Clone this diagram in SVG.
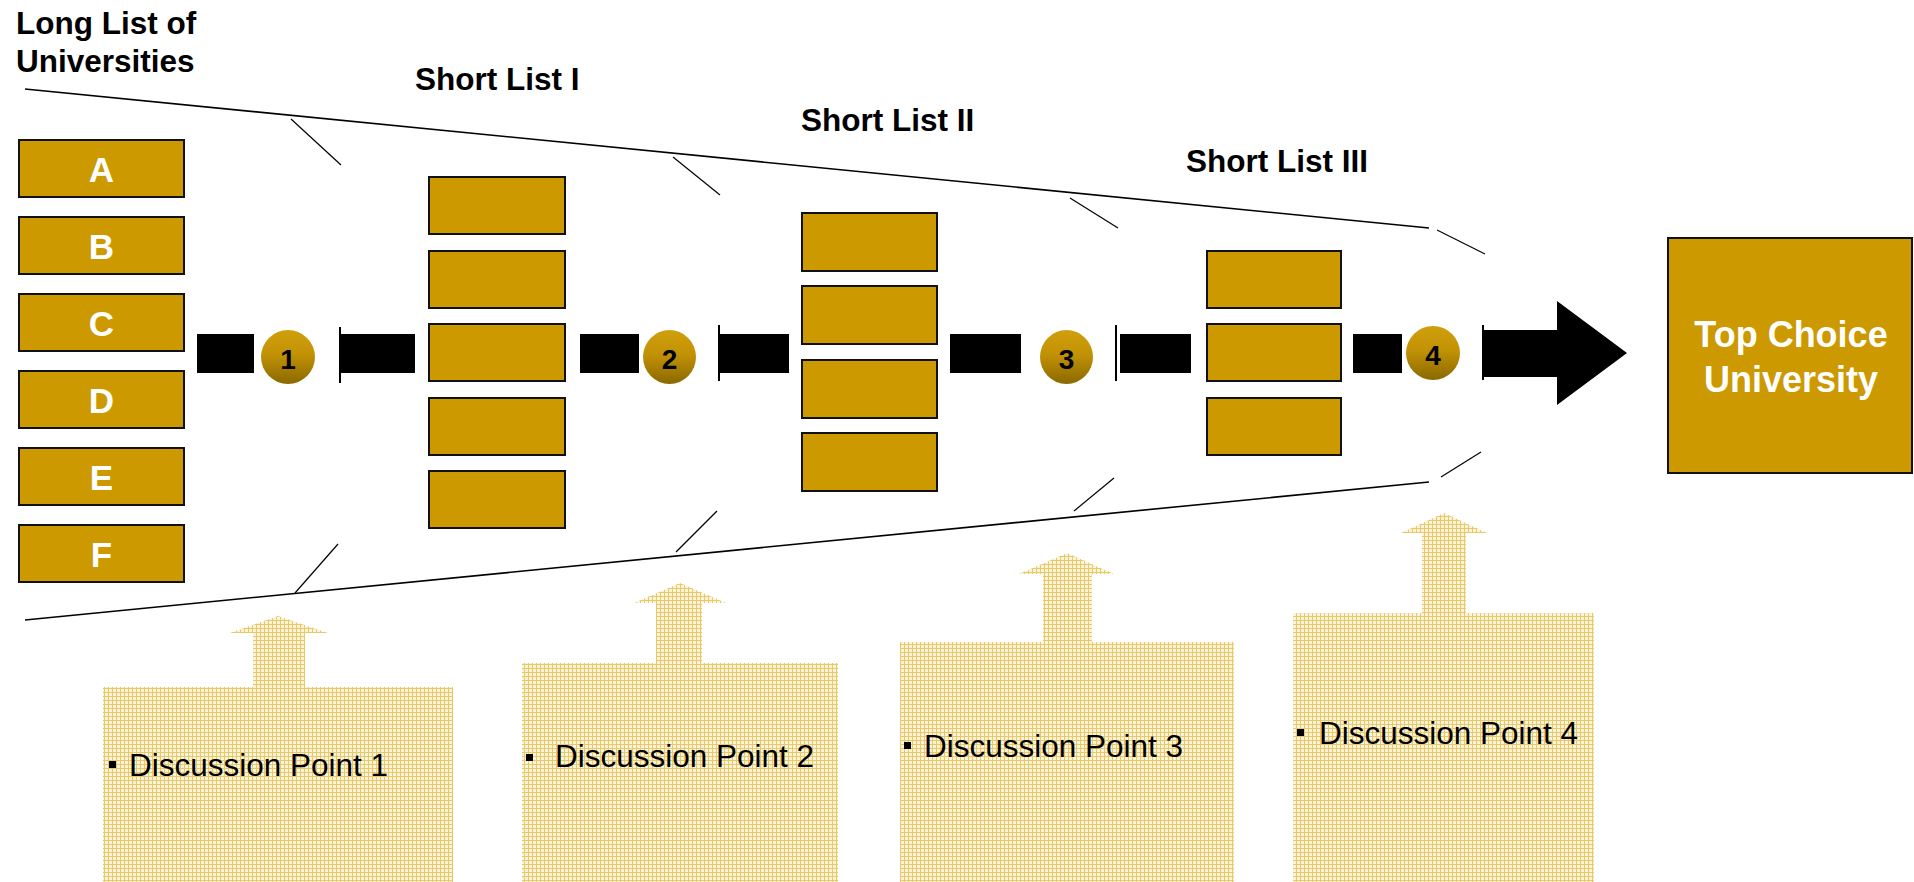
<svg xmlns="http://www.w3.org/2000/svg" width="1914" height="882" viewBox="0 0 1914 882">
<defs>
<style>
.box{fill:#cc9900;stroke:#111;stroke-width:2}
.lbl{font-family:"Liberation Sans",Arial,sans-serif;font-weight:bold;fill:#fff;text-anchor:middle}
.hd{font-family:"Liberation Sans",Arial,sans-serif;font-weight:bold;font-size:31.5px;fill:#000}
.num{font-family:"Liberation Sans",Arial,sans-serif;font-weight:bold;font-size:28px;fill:#000;text-anchor:middle}
.dp{font-family:"Liberation Sans",Arial,sans-serif;font-size:31.5px;fill:#000}
.bar{fill:#000}
.vl{stroke:#000;stroke-width:2}
.fl{stroke:#000;stroke-width:1.6;fill:none}
.tk{stroke:#000;stroke-width:1.2}
.panel{fill:url(#mesh)}
.ball{fill:url(#gold)}
</style>
<linearGradient id="gold" x1="0" y1="0" x2="0" y2="1">
<stop offset="0" stop-color="#cf9f0c"/>
<stop offset="0.45" stop-color="#c29205"/>
<stop offset="1" stop-color="#8a6900"/>
</linearGradient>
<pattern id="mesh" width="4" height="4" patternUnits="userSpaceOnUse">
<rect width="4" height="4" fill="#fbf3da"/>
<rect width="4" height="1" fill="#e8c968"/>
<rect width="1" height="4" fill="#e8c968"/>
</pattern>
</defs>
<rect width="1914" height="882" fill="#fff"/>

<g id="funnel">
<line class="fl" x1="25" y1="89" x2="1429" y2="228"/>
<line class="fl" x1="25" y1="620" x2="1429" y2="482"/>
<line class="tk" x1="291" y1="119" x2="341" y2="165"/>
<line class="tk" x1="673" y1="157" x2="720" y2="195"/>
<line class="tk" x1="1070" y1="198" x2="1118" y2="228"/>
<line class="tk" x1="1437" y1="230" x2="1485" y2="254"/>
<line class="tk" x1="338" y1="544" x2="295" y2="593"/>
<line class="tk" x1="717" y1="511" x2="676" y2="552"/>
<line class="tk" x1="1114" y1="478" x2="1074" y2="511"/>
<line class="tk" x1="1481" y1="452" x2="1441" y2="477"/>
</g>

<g id="headings">
<text class="hd" x="16" y="34">Long List of</text>
<text class="hd" x="16" y="72">Universities</text>
<text class="hd" x="415" y="90">Short List I</text>
<text class="hd" x="801" y="131">Short List II</text>
<text class="hd" x="1186" y="172">Short List III</text>
</g>

<g id="long-list">
<g id="uni-a"><rect class="box" x="19" y="140" width="165" height="57"/><text class="lbl" x="101.5" y="182" font-size="35">A</text></g>
<g id="uni-b"><rect class="box" x="19" y="217" width="165" height="57"/><text class="lbl" x="101.5" y="259" font-size="35">B</text></g>
<g id="uni-c"><rect class="box" x="19" y="294" width="165" height="57"/><text class="lbl" x="101.5" y="336" font-size="35">C</text></g>
<g id="uni-d"><rect class="box" x="19" y="371" width="165" height="57"/><text class="lbl" x="101.5" y="413" font-size="35">D</text></g>
<g id="uni-e"><rect class="box" x="19" y="448" width="165" height="57"/><text class="lbl" x="101.5" y="490" font-size="35">E</text></g>
<g id="uni-f"><rect class="box" x="19" y="525" width="165" height="57"/><text class="lbl" x="101.5" y="567" font-size="35">F</text></g>
</g>

<g id="short-list-1">
<rect class="box" x="429" y="177" width="136" height="57"/>
<rect class="box" x="429" y="251" width="136" height="57"/>
<rect class="box" x="429" y="324" width="136" height="57"/>
<rect class="box" x="429" y="398" width="136" height="57"/>
<rect class="box" x="429" y="471" width="136" height="57"/>
</g>

<g id="short-list-2">
<rect class="box" x="802" y="213" width="135" height="58"/>
<rect class="box" x="802" y="286" width="135" height="58"/>
<rect class="box" x="802" y="360" width="135" height="58"/>
<rect class="box" x="802" y="433" width="135" height="58"/>
</g>

<g id="short-list-3">
<rect class="box" x="1207" y="251" width="134" height="57"/>
<rect class="box" x="1207" y="324" width="134" height="57"/>
<rect class="box" x="1207" y="398" width="134" height="57"/>
</g>

<g id="top-choice">
<rect class="box" x="1668" y="238" width="244" height="235"/>
<text class="lbl" x="1791" y="347" font-size="36">Top Choice</text>
<text class="lbl" x="1791" y="392" font-size="36">University</text>
</g>

<g id="connectors">
<rect class="bar" x="197" y="334" width="57" height="39"/>
<line class="vl" x1="340" y1="327" x2="340" y2="383"/>
<rect class="bar" x="340" y="334" width="75" height="39"/>
<rect class="bar" x="580" y="334" width="59" height="39"/>
<line class="vl" x1="719" y1="325" x2="719" y2="381"/>
<rect class="bar" x="719" y="334" width="70" height="39"/>
<rect class="bar" x="950" y="334" width="71" height="39"/>
<line class="vl" x1="1116" y1="325" x2="1116" y2="381"/>
<rect class="bar" x="1120" y="334" width="71" height="39"/>
<rect class="bar" x="1353" y="334" width="49" height="39"/>
<line class="vl" x1="1483" y1="325" x2="1483" y2="380"/>
<polygon class="bar" points="1483,330 1557,330 1557,301 1627,353 1557,405 1557,377 1483,377"/>
</g>

<g id="step-1"><ellipse class="ball" cx="288" cy="357" rx="27" ry="27"/><text class="num" x="288" y="369">1</text></g>
<g id="step-2"><ellipse class="ball" cx="669.5" cy="357" rx="26.5" ry="27"/><text class="num" x="669.5" y="369">2</text></g>
<g id="step-3"><ellipse class="ball" cx="1066.5" cy="357" rx="26.5" ry="27"/><text class="num" x="1066.5" y="369">3</text></g>
<g id="step-4"><ellipse class="ball" cx="1433" cy="353" rx="27" ry="27"/><text class="num" x="1433" y="365">4</text></g>

<g id="discussion-1">
<polygon class="panel" points="253,687 253,633 230,633 278,616 328,633 305,633 305,687"/>
<rect class="panel" x="103" y="687" width="350" height="195"/>
<rect x="109" y="761" width="7" height="7" fill="#000"/>
<text class="dp" x="129" y="776">Discussion Point 1</text>
</g>
<g id="discussion-2">
<polygon class="panel" points="656,663 656,603 634,603 680,583 726,603 702,603 702,663"/>
<rect class="panel" x="522" y="663" width="316" height="219"/>
<rect x="526" y="754" width="7" height="7" fill="#000"/>
<text class="dp" x="555" y="767">Discussion Point 2</text>
</g>
<g id="discussion-3">
<polygon class="panel" points="1043,642 1043,574 1019,574 1067,553 1114,574 1092,574 1092,642"/>
<rect class="panel" x="900" y="642" width="334" height="240"/>
<rect x="904" y="742" width="7" height="7" fill="#000"/>
<text class="dp" x="924" y="757">Discussion Point 3</text>
</g>
<g id="discussion-4">
<polygon class="panel" points="1422,613 1422,533 1401,533 1444,513 1487,533 1466,533 1466,613"/>
<rect class="panel" x="1293" y="613" width="301" height="269"/>
<rect x="1297" y="729" width="7" height="7" fill="#000"/>
<text class="dp" x="1319" y="744">Discussion Point 4</text>
</g>
</svg>
